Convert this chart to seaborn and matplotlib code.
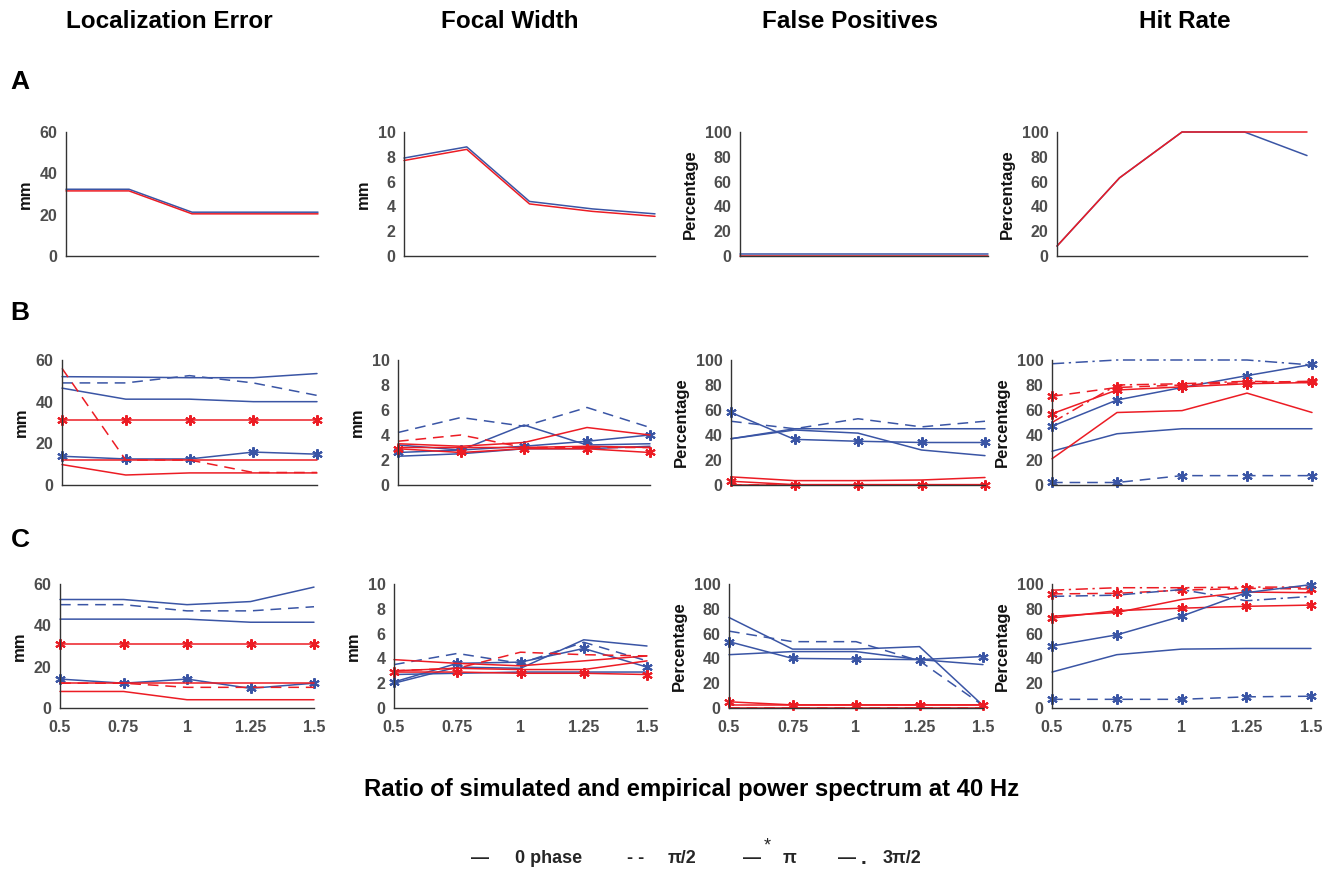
import matplotlib
matplotlib.use("Agg")
import matplotlib.pyplot as plt
import seaborn as sns

# ---------------- data ----------------
ratios = [0.5, 0.75, 1, 1.25, 1.5]
ratio_labels = ["0.5", "0.75", "1", "1.25", "1.5"]
metrics = ["Localization Error", "Focal Width", "False Positives", "Hit Rate"]
row_names = ["A", "B", "C"]
units = ["mm", "mm", "Percentage", "Percentage"]
y_limits = [60, 10, 100, 100]
y_steps = [20, 2, 20, 20]
legend_names = ["0 phase", "π/2", "π", "3π/2"]
xlabel_text = "Ratio of simulated and empirical power spectrum at 40 Hz"

# Row A
a_loc_blue = [32.3, 32.3, 21.2, 21.2, 21.2]
a_loc_red = [31.5, 31.5, 20.4, 20.4, 20.4]
a_fw_blue = [7.9, 8.8, 4.4, 3.8, 3.4]
a_fw_red = [7.7, 8.6, 4.2, 3.6, 3.2]
a_fp_blue = [1.3, 1.3, 1.3, 1.3, 1.3]
a_fp_red = [0, 0, 0, 0, 0]
a_hr_blue = [8, 63, 100, 100, 81]
a_hr_red = [8, 63, 100, 100, 100]

# Row B - localization error
b_loc_blue_0 = [52, 51.8, 51.5, 51.5, 53.5]
b_loc_blue_half = [49, 49, 52.5, 49, 43]
b_loc_blue_3half = [46.5, 41.2, 41.2, 40, 40]
b_loc_blue_pi = [13.8, 12.5, 12.5, 15.8, 14.8]
b_loc_red_half = [56, 12, 12, 6, 6]
b_loc_red_pi = [31.2, 31.2, 31.2, 31.2, 31.2]
b_loc_red_3half = [12, 12, 12, 12, 12]
b_loc_red_0 = [9.8, 4.8, 5.8, 5.8, 5.8]
# Row B - focal width
b_fw_blue_half = [4.2, 5.4, 4.7, 6.2, 4.6]
b_fw_blue_0 = [3.2, 2.8, 4.8, 3.2, 3.3]
b_fw_blue_pi = [2.6, 2.8, 3.1, 3.5, 4.0]
b_fw_blue_3half = [2.3, 2.5, 2.9, 2.9, 3.1]
b_fw_red_half = [3.5, 4.0, 3.0, 3.0, 3.0]
b_fw_red_0 = [3.3, 3.1, 3.4, 4.6, 4.0]
b_fw_red_pi = [2.9, 2.6, 2.9, 2.9, 2.6]
b_fw_red_3half = [3.0, 3.0, 3.0, 3.1, 3.0]
# Row B - false positives
b_fp_blue_pi = [58, 36.5, 35, 34, 34]
b_fp_blue_half = [51, 45, 53, 46.5, 51]
b_fp_blue_3half = [37, 45, 45, 45, 45]
b_fp_blue_0 = [37, 44, 41.5, 28, 23.5]
b_fp_red_0 = [6.5, 3.5, 3.5, 4, 6]
b_fp_red_pi = [3, 0.3, 0.3, 0.3, 0.3]
b_fp_red_3half = [0, 0, 0, 0, 0]
b_fp_red_half = [0, 0, 0, 0, 0]
# Row B - hit rate
b_hr_blue_3half = [97, 100, 100, 100, 96]
b_hr_blue_pi = [47, 68, 78, 87.5, 96.5]
b_hr_blue_0 = [27, 41, 45, 45, 45]
b_hr_blue_half = [2, 2, 7.5, 7.5, 7.5]
b_hr_red_pi = [57, 76, 78.5, 81, 82]
b_hr_red_half = [71, 78, 80, 82, 83]
b_hr_red_3half = [50, 80, 81, 83, 82]
b_hr_red_0 = [21, 58, 59.5, 73.5, 58]

# Row C - localization error
c_loc_blue_0 = [52.5, 52.5, 50, 51.5, 58.5]
c_loc_blue_half = [50, 50, 47, 47, 49]
c_loc_blue_3half = [43, 43, 43, 41.5, 41.5]
c_loc_blue_pi = [14, 12, 14, 9.5, 12]
c_loc_red_pi = [31.2, 31.2, 31.2, 31.2, 31.2]
c_loc_red_3half = [12, 12, 12, 12, 12]
c_loc_red_half = [12, 12, 10, 10, 10]
c_loc_red_0 = [8, 8, 4, 4, 4]
# Row C - focal width
c_fw_blue_0 = [2.0, 3.3, 3.2, 5.5, 5.0]
c_fw_blue_half = [3.5, 4.4, 3.6, 5.3, 3.8]
c_fw_blue_pi = [2.1, 3.6, 3.7, 4.8, 3.3]
c_fw_blue_3half = [2.7, 2.8, 2.9, 2.9, 2.9]
c_fw_red_0 = [3.9, 3.6, 3.4, 3.8, 4.2]
c_fw_red_half = [3.0, 3.2, 4.5, 4.3, 4.2]
c_fw_red_3half = [3.0, 3.2, 3.1, 3.1, 3.8]
c_fw_red_pi = [2.9, 2.9, 2.8, 2.8, 2.7]
# Row C - false positives
c_fp_blue_0 = [73, 47.5, 47.5, 49.5, 2]
c_fp_blue_half = [62, 53.5, 53.5, 38, 2]
c_fp_blue_pi = [53.5, 40, 39.5, 39, 41.5]
c_fp_blue_3half = [43, 45.5, 45.5, 39, 35]
c_fp_red_pi = [5, 2.5, 2.5, 2.5, 2.5]
c_fp_red_0 = [2.5, 2.5, 2.5, 2.5, 2.5]
c_fp_red_half = [0, 0, 0, 0, 0]
c_fp_red_3half = [0, 0, 0, 0, 0]
# Row C - hit rate
c_hr_red_3half = [95, 97, 97, 97.5, 97.5]
c_hr_red_half = [92, 92.5, 95, 96.5, 96]
c_hr_blue_3half = [90, 91, 95.5, 86.5, 90]
c_hr_red_0 = [74, 77, 87.5, 93.5, 93]
c_hr_red_pi = [72.5, 78.5, 80.5, 82, 83]
c_hr_blue_pi = [50, 59, 74, 93, 99.5]
c_hr_blue_0 = [29, 43, 47.5, 48, 48]
c_hr_blue_half = [7, 7, 7, 9, 9.5]

# ---------------- styling ----------------
BLUE = "#3a55a5"
RED = "#ec1c24"
LS = {"solid": "-", "dash": (0, (7, 4.5)), "dashdot": (0, (8, 3, 1.5, 3))}
STAR = (6, 2, 0)

# (values, color, linestyle, starred)
panels = {
    (0, 0): [(a_loc_blue, BLUE, "solid", False), (a_loc_red, RED, "solid", False)],
    (0, 1): [(a_fw_blue, BLUE, "solid", False), (a_fw_red, RED, "solid", False)],
    (0, 2): [(a_fp_blue, BLUE, "solid", False), (a_fp_red, RED, "solid", False)],
    (0, 3): [(a_hr_blue, BLUE, "solid", False), (a_hr_red, RED, "solid", False)],
    (1, 0): [(b_loc_blue_0, BLUE, "solid", False), (b_loc_blue_half, BLUE, "dash", False),
             (b_loc_blue_3half, BLUE, "solid", False), (b_loc_blue_pi, BLUE, "solid", True),
             (b_loc_red_half, RED, "dash", False), (b_loc_red_pi, RED, "solid", True),
             (b_loc_red_3half, RED, "solid", False), (b_loc_red_0, RED, "solid", False)],
    (1, 1): [(b_fw_blue_half, BLUE, "dash", False), (b_fw_blue_0, BLUE, "solid", False),
             (b_fw_blue_pi, BLUE, "solid", True), (b_fw_blue_3half, BLUE, "solid", False),
             (b_fw_red_half, RED, "dash", False), (b_fw_red_0, RED, "solid", False),
             (b_fw_red_pi, RED, "solid", True), (b_fw_red_3half, RED, "solid", False)],
    (1, 2): [(b_fp_blue_pi, BLUE, "solid", True), (b_fp_blue_half, BLUE, "dash", False),
             (b_fp_blue_3half, BLUE, "solid", False), (b_fp_blue_0, BLUE, "solid", False),
             (b_fp_red_0, RED, "solid", False), (b_fp_red_pi, RED, "solid", True),
             (b_fp_red_3half, RED, "solid", False), (b_fp_red_half, RED, "dash", False)],
    (1, 3): [(b_hr_blue_3half, BLUE, "dashdot", False), (b_hr_blue_pi, BLUE, "solid", True),
             (b_hr_blue_0, BLUE, "solid", False), (b_hr_blue_half, BLUE, "dash", True),
             (b_hr_red_pi, RED, "solid", True), (b_hr_red_half, RED, "dash", True),
             (b_hr_red_3half, RED, "dashdot", False), (b_hr_red_0, RED, "solid", False)],
    (2, 0): [(c_loc_blue_0, BLUE, "solid", False), (c_loc_blue_half, BLUE, "dash", False),
             (c_loc_blue_3half, BLUE, "solid", False), (c_loc_blue_pi, BLUE, "solid", True),
             (c_loc_red_pi, RED, "solid", True), (c_loc_red_3half, RED, "solid", False),
             (c_loc_red_half, RED, "dash", False), (c_loc_red_0, RED, "solid", False)],
    (2, 1): [(c_fw_blue_0, BLUE, "solid", False), (c_fw_blue_half, BLUE, "dash", False),
             (c_fw_blue_pi, BLUE, "solid", True), (c_fw_blue_3half, BLUE, "solid", False),
             (c_fw_red_0, RED, "solid", False), (c_fw_red_half, RED, "dash", False),
             (c_fw_red_3half, RED, "solid", False), (c_fw_red_pi, RED, "solid", True)],
    (2, 2): [(c_fp_blue_0, BLUE, "solid", False), (c_fp_blue_half, BLUE, "dash", False),
             (c_fp_blue_pi, BLUE, "solid", True), (c_fp_blue_3half, BLUE, "solid", False),
             (c_fp_red_pi, RED, "solid", True), (c_fp_red_0, RED, "solid", False),
             (c_fp_red_half, RED, "dash", False), (c_fp_red_3half, RED, "solid", False)],
    (2, 3): [(c_hr_red_3half, RED, "dashdot", False), (c_hr_red_half, RED, "dash", True),
             (c_hr_blue_3half, BLUE, "dashdot", False), (c_hr_red_0, RED, "solid", False),
             (c_hr_red_pi, RED, "solid", True), (c_hr_blue_pi, BLUE, "solid", True),
             (c_hr_blue_0, BLUE, "solid", False), (c_hr_blue_half, BLUE, "dash", True)],
}

sns.set_style("white")
plt.rcParams["font.family"] = ["Liberation Sans", "DejaVu Sans"]
plt.rcParams["font.weight"] = "bold"

W, H = 1339, 871
fig = plt.figure(figsize=(W / 100, H / 100), dpi=100)

# axes pixel boxes: (left, right) per row/col, (top, bottom) per row
col_px = [
    [(66, 318), (404, 655), (740, 988), (1057, 1307)],
    [(62, 317), (398, 650), (731, 985), (1052, 1312)],
    [(60, 314), (394, 647), (729, 983), (1052, 1311)],
]
row_px = [(132, 256), (360, 485), (584, 708)]

AX_COLOR = "#333333"
TICK_COLOR = "#4d4d4d"

for r in range(3):
    top, bot = row_px[r]
    for c in range(4):
        left, right = col_px[r][c]
        ax = fig.add_axes([left / W, 1 - bot / H, (right - left) / W, (bot - top) / H])
        for vals, color, ls, starred in panels[(r, c)]:
            kw = dict(color=color, linewidth=1.1, linestyle=LS[ls], clip_on=False)
            if starred:
                kw.update(marker=STAR, markersize=7.5, markeredgewidth=1.5,
                          markeredgecolor=color)
            sns.lineplot(x=ratios, y=vals, ax=ax, **kw)
        ax.set_xlim(0.5, 1.5)
        ax.set_ylim(0, y_limits[c])
        ax.set_yticks(range(0, y_limits[c] + 1, y_steps[c]))
        ax.set_xticks(ratios)
        if r == 2:
            ax.set_xticklabels(ratio_labels)
        else:
            ax.set_xticklabels([])
        for s in ["top", "right"]:
            ax.spines[s].set_visible(False)
        for s in ["left", "bottom"]:
            ax.spines[s].set_color(AX_COLOR)
            ax.spines[s].set_linewidth(1.0)
        ax.tick_params(direction="in", length=4, width=1, colors=AX_COLOR,
                       labelcolor=TICK_COLOR, labelsize=11.5)
        ax.tick_params(axis="y", pad=6)
        ax.tick_params(axis="x", pad=9)
        for lab in ax.get_xticklabels() + ax.get_yticklabels():
            lab.set_fontweight("bold")
        ax.set_ylabel(units[c], fontsize=12, fontweight="bold", color="#111111", labelpad=5)
        ax.set_xlabel("")
        ax.patch.set_alpha(0)

# column titles
title_x = [169, 510, 850, 1185]
for c in range(4):
    fig.text(title_x[c] / W, 1 - 22 / H, metrics[c], ha="center", va="center",
             fontsize=17.5, fontweight="bold", color="black")

# row letters
row_y = [82, 313, 540]
for r in range(3):
    fig.text(20 / W, 1 - row_y[r] / H, row_names[r], ha="center", va="center",
             fontsize=19, fontweight="bold", color="black")

# common x label
fig.text(692 / W, 1 - 789 / H, xlabel_text, ha="center", va="center",
         fontsize=17.2, fontweight="bold", color="black")

# legend (text glyphs)
ly = 1 - 858 / H
fs = 13
fig.text(480 / W, ly, "—", ha="center", va="center", fontsize=fs, fontweight="bold")
fig.text(515 / W, ly, legend_names[0], ha="left", va="center", fontsize=fs, fontweight="bold")
fig.text(636 / W, ly, "- -", ha="center", va="center", fontsize=fs, fontweight="bold")
fig.text(668 / W, ly, legend_names[1], ha="left", va="center", fontsize=fs, fontweight="bold")
fig.text(752 / W, ly, "—", ha="center", va="center", fontsize=fs, fontweight="bold")
fig.text(767 / W, 1 - 846 / H, "*", ha="center", va="center", fontsize=fs, fontweight="normal")
fig.text(783 / W, ly, legend_names[2], ha="left", va="center", fontsize=fs, fontweight="bold")
fig.text(847 / W, ly, "—", ha="center", va="center", fontsize=fs, fontweight="bold")
fig.text(864 / W, ly, ".", ha="center", va="center", fontsize=fs + 2, fontweight="bold")
fig.text(883 / W, ly, legend_names[3], ha="left", va="center", fontsize=fs, fontweight="bold")

fig.savefig("out.png", dpi=100, facecolor="white")
